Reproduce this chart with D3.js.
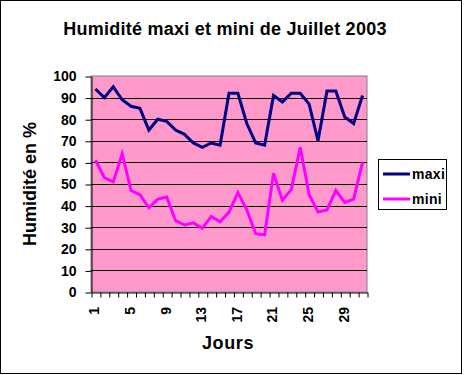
<!DOCTYPE html>
<html>
<head>
<meta charset="utf-8">
<script src="https://cdn.jsdelivr.net/npm/d3@7"></script>
<style>
  body { margin: 0; background: #fff; }
  text { font-family: Arial, "Liberation Sans", sans-serif; }
</style>
</head>
<body>
<div id="chart"></div>
<script>
var days = d3.range(1, 32);
var maxi = [94, 90, 95, 89, 86, 85, 75, 80, 79, 75, 73, 69, 67, 69, 68, 92,
            92, 78, 69, 68, 91, 88, 92, 92, 87, 70, 93, 93, 81, 78, 91];
var mini = [61, 53, 51, 64, 47, 45, 39, 43, 44, 33, 31, 32, 29.5, 35, 32.5, 37,
            46, 38, 27, 26.5, 55, 42.5, 47.5, 67, 45, 37, 38, 47, 41.5, 43, 60];
var yTicks = d3.range(0, 101, 10);
var xLabels = [1, 5, 9, 13, 17, 21, 25, 29];
var seriesNames = ["maxi", "mini"];
var seriesColors = ["#000080", "#ff00ff"];

var svgWidth = 464, svgHeight = 375;
var plot = { left: 91, right: 367, top: 76, bottom: 292 };
var fontFam = "Arial, 'Liberation Sans', sans-serif";

var svg = d3.select("#chart").append("svg")
  .attr("width", svgWidth)
  .attr("height", svgHeight);

// outer frame
svg.append("rect")
  .attr("x", 0.5).attr("y", 0.5)
  .attr("width", 461).attr("height", 373)
  .attr("fill", "#fff").attr("stroke", "#000");

var x = d3.scaleBand().domain(days).range([plot.left, plot.right]).padding(0);
var xEdge = d3.scaleLinear().domain([0, days.length]).range([plot.left, plot.right]);
var y = d3.scaleLinear().domain([0, 100]).range([plot.bottom, plot.top]);

// plot area
svg.append("rect")
  .attr("x", plot.left).attr("y", plot.top)
  .attr("width", plot.right - plot.left).attr("height", plot.bottom - plot.top)
  .attr("fill", "#ff99cc").attr("stroke", "#808080");

// gridlines
svg.append("g").selectAll("line")
  .data(yTicks.filter(function (d) { return d > 0 && d < 100; }))
  .enter().append("line")
  .attr("x1", plot.left).attr("x2", plot.right)
  .attr("y1", function (d) { return Math.round(y(d)) + 0.5; })
  .attr("y2", function (d) { return Math.round(y(d)) + 0.5; })
  .attr("stroke", "#000");

// y axis
var gy = svg.append("g")
  .attr("transform", "translate(" + (plot.left + 0.5) + ",0.5)")
  .call(d3.axisLeft(y).tickValues(yTicks).tickSize(6).tickPadding(9).tickSizeOuter(0));
gy.selectAll("text").attr("font-size", "14px").attr("font-weight", "bold")
  .attr("font-family", fontFam).attr("fill", "#000");

// x axis ticks at category edges
svg.append("g")
  .attr("transform", "translate(0.5," + (plot.bottom + 0.5) + ")")
  .call(d3.axisBottom(xEdge).tickValues(d3.range(0, days.length + 1)).tickFormat("").tickSize(5).tickSizeOuter(0));

// x labels
var gxl = svg.append("g")
  .attr("transform", "translate(0," + plot.bottom + ")")
  .call(d3.axisBottom(x).tickValues(xLabels).tickSize(0));
gxl.select(".domain").remove();
gxl.selectAll("text")
  .attr("font-size", "14px").attr("font-weight", "bold")
  .attr("font-family", fontFam).attr("fill", "#000")
  .attr("transform", "rotate(-90)")
  .attr("text-anchor", "end")
  .attr("x", -15).attr("y", -1).attr("dy", "0.35em");

// lines
var line = d3.line()
  .x(function (d, i) { return x(days[i]) + x.bandwidth() / 2; })
  .y(function (d) { return y(d); });

[maxi, mini].forEach(function (s, i) {
  svg.append("path")
    .attr("d", line(s))
    .attr("fill", "none")
    .attr("stroke", seriesColors[i])
    .attr("stroke-width", 3)
    .attr("stroke-linejoin", "miter");
});

// titles
svg.append("text")
  .attr("x", 225).attr("y", 35)
  .attr("text-anchor", "middle")
  .attr("font-size", "18px").attr("font-weight", "bold")
  .attr("letter-spacing", "0.25px")
  .text("Humidité maxi et mini de Juillet 2003");

svg.append("text")
  .attr("transform", "translate(36,184) rotate(-90)")
  .attr("text-anchor", "middle")
  .attr("font-size", "18px").attr("font-weight", "bold")
  .text("Humidité en %");

svg.append("text")
  .attr("x", 228).attr("y", 349)
  .attr("text-anchor", "middle")
  .attr("font-size", "18px").attr("font-weight", "bold")
  .attr("letter-spacing", "0.6px")
  .text("Jours");

// legend
var legend = svg.append("g");
legend.append("rect")
  .attr("x", 378.5).attr("y", 159.5)
  .attr("width", 68).attr("height", 50)
  .attr("fill", "#fff").attr("stroke", "#000");
seriesNames.forEach(function (name, i) {
  var ly = 174 + i * 25;
  legend.append("line")
    .attr("x1", 383).attr("x2", 410)
    .attr("y1", ly).attr("y2", ly)
    .attr("stroke", seriesColors[i]).attr("stroke-width", 3);
  legend.append("text")
    .attr("x", 412).attr("y", ly).attr("dy", "0.35em")
    .attr("font-size", "14px").attr("font-weight", "bold")
    .attr("letter-spacing", "0.3px")
    .text(name);
});
</script>
</body>
</html>
